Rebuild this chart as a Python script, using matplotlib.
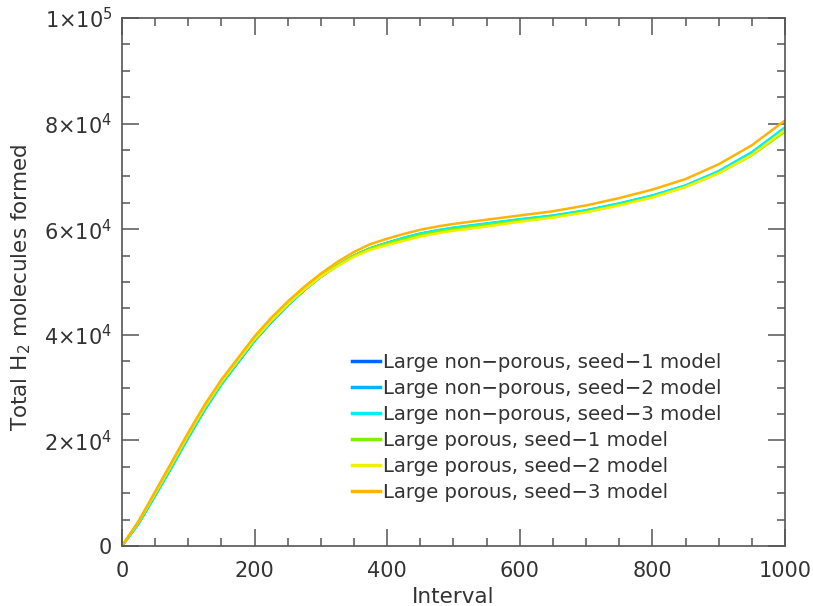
import numpy as np
import matplotlib
matplotlib.use('Agg')
import matplotlib.pyplot as plt
from matplotlib.ticker import MultipleLocator, FixedLocator, FixedFormatter

# Interval sample points
interval = [0, 25, 50, 75, 100, 125, 150, 175, 200, 225, 250, 275, 300,
            325, 350, 375, 400, 425, 450, 475, 500, 550, 600, 650, 700,
            750, 800, 850, 900, 950, 1000]

# Total H2 molecules formed
np_seed1 = [0, 4300, 9600, 15000, 20600, 25900, 30700, 34800, 38900, 42400,
            45600, 48500, 51000, 53100, 55000, 56400, 57400, 58300, 59100,
            59700, 60200, 61000, 61800, 62500, 63500, 64800, 66300, 68200,
            70900, 74400, 79000]
np_seed2 = [0, 4300, 9600, 15000, 20600, 25900, 30700, 34800, 38900, 42400,
            45600, 48500, 51000, 53100, 55000, 56400, 57400, 58300, 59100,
            59700, 60200, 61000, 61800, 62500, 63500, 64800, 66300, 68200,
            70900, 74400, 79100]
np_seed3 = [0, 4200, 9500, 14900, 20500, 25800, 30600, 34800, 38900, 42400,
            45600, 48500, 51000, 53100, 55000, 56400, 57400, 58400, 59200,
            59800, 60300, 61100, 61900, 62600, 63600, 64900, 66400, 68300,
            71000, 74600, 79300]
p_seed1 = [0, 4500, 9900, 15400, 21000, 26300, 31000, 35100, 39100, 42600,
           45800, 48600, 51100, 53200, 55000, 56400, 57300, 58100, 58900,
           59500, 60000, 60800, 61600, 62300, 63300, 64600, 66100, 68000,
           70600, 74000, 78500]
p_seed2 = [0, 4600, 10000, 15500, 21100, 26400, 31100, 35200, 39200, 42700,
           45800, 48600, 51000, 53000, 54800, 56100, 57000, 57800, 58600,
           59200, 59700, 60500, 61400, 62200, 63200, 64500, 66000, 68000,
           70600, 74100, 78800]
p_seed3 = [0, 4700, 10300, 15900, 21500, 26800, 31500, 35600, 39700, 43200,
           46300, 49100, 51600, 53800, 55700, 57200, 58200, 59100, 59900,
           60500, 61000, 61800, 62600, 63400, 64500, 65900, 67500, 69500,
           72300, 75900, 80600]

labels = ['Large non\u2212porous, seed\u22121 model',
          'Large non\u2212porous, seed\u22122 model',
          'Large non\u2212porous, seed\u22123 model',
          'Large porous, seed\u22121 model',
          'Large porous, seed\u22122 model',
          'Large porous, seed\u22123 model']
colors = ['#0064ff', '#00b4ff', '#00f0f0', '#80f000', '#f0f000', '#ffb400']
series = [np_seed1, np_seed2, np_seed3, p_seed1, p_seed2, p_seed3]

ytick_vals = [0, 2e4, 4e4, 6e4, 8e4, 1e5]
ytick_labels = ['0', '2\u00d710$^4$', '4\u00d710$^4$', '6\u00d710$^4$',
                '8\u00d710$^4$', '1\u00d710$^5$']

plt.rcParams['mathtext.default'] = 'regular'
txt = '#333333'

fig = plt.figure(figsize=(8.13, 6.06), dpi=100)
ax = fig.add_axes([0.150, 0.099, 0.8156, 0.8713])

for vals, c, lab in zip(series, colors, labels):
    ax.plot(interval, vals, color=c, lw=1.8, label=lab)

ax.set_xlim(0, 1000)
ax.set_ylim(0, 1e5)

ax.xaxis.set_major_locator(MultipleLocator(200))
ax.xaxis.set_minor_locator(MultipleLocator(50))
ax.yaxis.set_major_locator(FixedLocator(ytick_vals))
ax.yaxis.set_major_formatter(FixedFormatter(ytick_labels))
ax.yaxis.set_minor_locator(MultipleLocator(5000))

ax.tick_params(which='both', direction='in', top=True, right=True,
               color='#555555', width=1.1, labelcolor=txt, labelsize=15)
ax.tick_params(which='major', length=12)
ax.tick_params(which='minor', length=6)
ax.tick_params(axis='x', which='major', pad=11)
ax.tick_params(axis='y', which='major', pad=7)
for sp in ax.spines.values():
    sp.set_color('#555555')
    sp.set_linewidth(1.2)

ax.set_xlabel('Interval', fontsize=15.5, color=txt)
ax.xaxis.set_label_coords(0.5, -0.077)
ax.set_ylabel('Total H$_2$ molecules formed', fontsize=15.5, color=txt)
ax.yaxis.set_label_coords(-0.134, 0.49)

leg = ax.legend(loc='lower right', bbox_to_anchor=(0.916, 0.068),
                frameon=False, fontsize=14.2, handlelength=1.4,
                handletextpad=0.15, labelspacing=0.36, borderaxespad=0)
for t in leg.get_texts():
    t.set_color(txt)
for h in leg.get_lines():
    h.set_linewidth(2.5)

fig.savefig('out.png', dpi=100)
